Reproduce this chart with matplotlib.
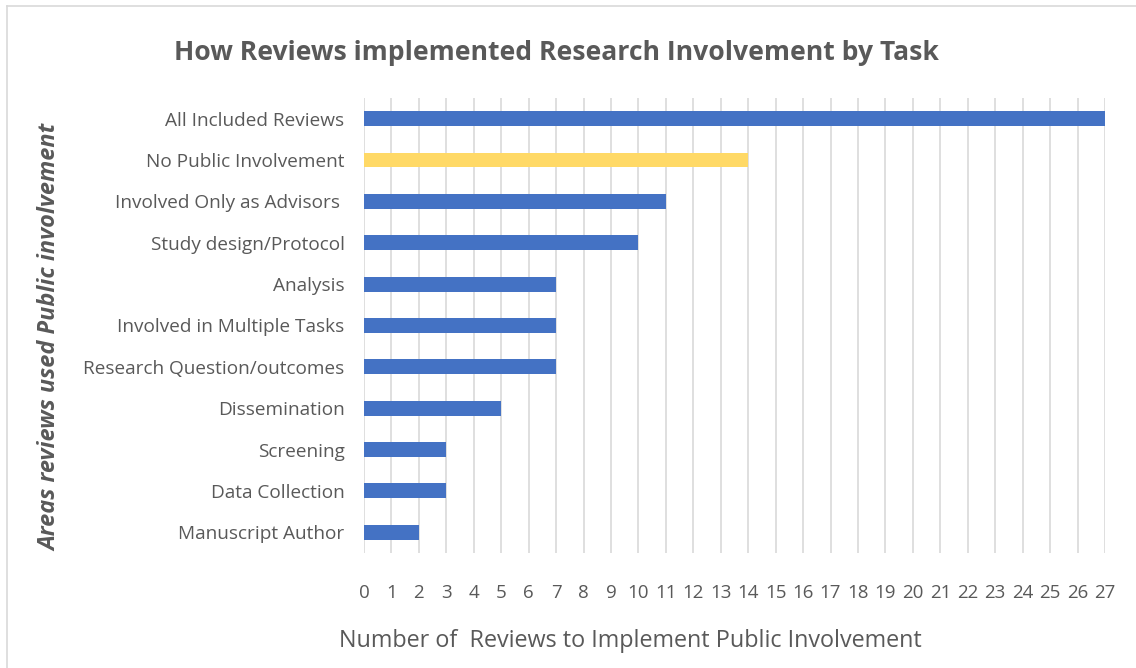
import matplotlib
matplotlib.use("Agg")
import matplotlib.pyplot as plt
from matplotlib.lines import Line2D

tasks = ["All Included Reviews", "No Public Involvement", "Involved Only as Advisors ",
         "Study design/Protocol", "Analysis", "Involved in Multiple Tasks",
         "Research Question/outcomes", "Dissemination", "Screening",
         "Data Collection", "Manuscript Author"]
counts = [27, 14, 11, 10, 7, 7, 7, 5, 3, 3, 2]
colors = ["#4472C4", "#FFD966"] + ["#4472C4"] * 9
ticks = list(range(0, 28))

txt = "#595959"
plt.rcParams["font.family"] = ["Open Sans", "DejaVu Sans"]

fig = plt.figure(figsize=(11.36, 6.68), dpi=100)
ax = fig.add_axes([0.3204, 0.1722, 0.6523, 0.6811])

ypos = list(range(len(tasks)))
ax.barh(ypos, counts, height=0.36, color=colors, zorder=3)

ax.set_xlim(0, 27)
ax.set_ylim(len(tasks) - 0.5, -0.5)
ax.set_xticks(ticks)
ax.set_xticklabels([str(t) for t in ticks], fontsize=13.5, color=txt)
ax.set_yticks(ypos)
ax.set_yticklabels(tasks, fontsize=13.7, color=txt)
ax.tick_params(axis="x", length=0, pad=22)
ax.tick_params(axis="y", length=0, pad=14)
ax.grid(axis="x", color="#D9D9D9", linewidth=1.2, zorder=0)
for s in ax.spines.values():
    s.set_visible(False)

fig.text(0.49, 0.921, "How Reviews implemented Research Involvement by Task",
         ha="center", va="center", fontsize=19.1, fontweight="bold", color=txt)
fig.text(0.5546, 0.040, "Number of  Reviews to Implement Public Involvement",
         ha="center", va="center", fontsize=16.8, color=txt)
fig.text(0.044, 0.4955, "Areas reviews used Public involvement", rotation=90,
         ha="center", va="center", fontsize=16.9, fontweight="bold",
         fontstyle="italic", color=txt)

# chart area border (only left and top edges visible)
fig.add_artist(Line2D([0.0066, 0.0066], [0.0, 0.991], color="#D9D9D9",
                      linewidth=1.2, transform=fig.transFigure))
fig.add_artist(Line2D([0.0066, 1.0], [0.991, 0.991], color="#D9D9D9",
                      linewidth=1.2, transform=fig.transFigure))

fig.savefig("out.png", dpi=100)
